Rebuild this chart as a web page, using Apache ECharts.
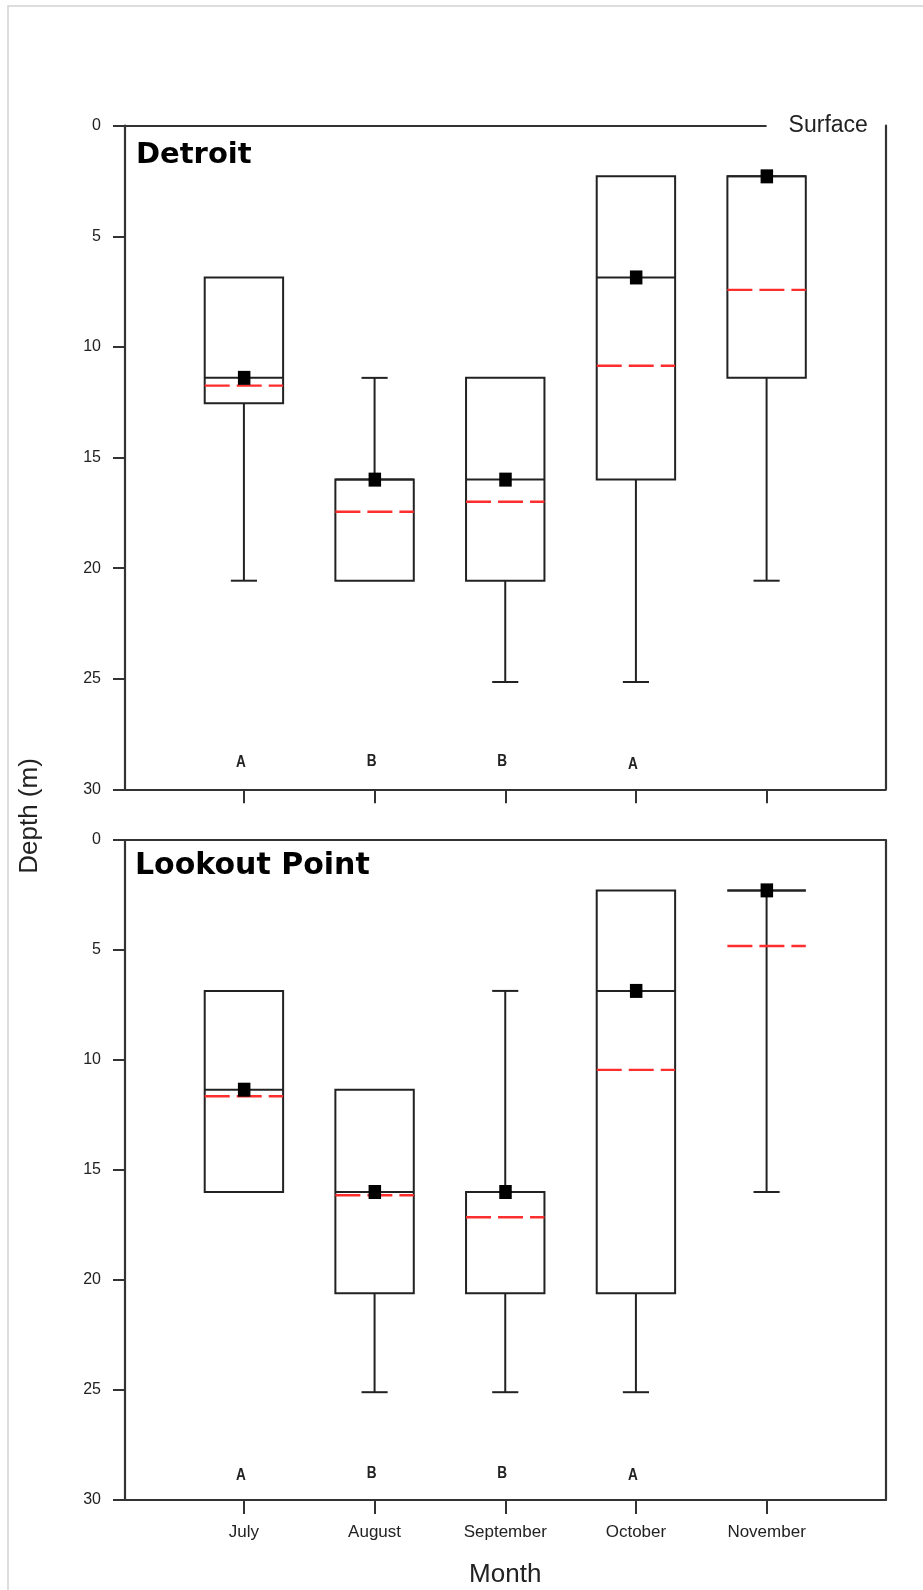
<!DOCTYPE html>
<html><head><meta charset="utf-8">
<script src="https://cdn.jsdelivr.net/npm/echarts@6/dist/echarts.min.js"></script>
<style>html,body{margin:0;padding:0;background:#fff}#c{width:923px;height:1590px}</style>
</head><body><div id="c"></div>
<script>
// ---- data (depth in metres) ----
const months = ['July', 'August', 'September', 'October', 'November'];
const monthPos = [1, 2, 3, 4, 5];
const depthTicks = [0, 5, 10, 15, 20, 25, 30];

// Detroit
const detShallow = [6.86, 11.4, 11.4, 2.29, 2.29];
const detQ1      = [6.86, 16.0, 11.4, 2.29, 2.29];
const detMedian  = [11.4, 16.0, 16.0, 6.86, 2.29];
const detQ3      = [12.55, 20.57, 20.57, 16.0, 11.4];
const detDeep    = [20.57, 20.57, 25.15, 25.15, 20.57];
const detMean    = [11.75, 17.45, 17.0, 10.85, 7.42];
const detLetters = ['A', 'B', 'B', 'A', ''];
const detLetterDepth = [28.8, 28.75, 28.75, 28.9, 28.8];

// Lookout Point
const lopShallow = [6.86, 11.35, 6.86, 2.29, 2.29];
const lopQ1      = [6.86, 11.35, 16.0, 2.29, 2.29];
const lopMedian  = [11.35, 16.0, 16.0, 6.86, 2.29];
const lopQ3      = [16.0, 20.6, 20.6, 20.6, 2.29];
const lopDeep    = [16.0, 25.1, 25.1, 25.1, 16.0];
const lopMean    = [11.65, 16.15, 17.15, 10.45, 4.82];
const lopLetters = ['A', 'B', 'B', 'A', ''];
const lopLetterDepth = [28.9, 28.8, 28.8, 28.9, 28.9];

// ---- chart ----
const chart = echarts.init(document.getElementById('c'), null, {renderer: 'canvas'});
const INK = '#222';
const AX = '#333';

function rows(sh, q1, med, q3, dp, mean, ld) {
  return monthPos.map((p, i) => [p, sh[i], q1[i], med[i], q3[i], dp[i], mean[i], ld[i]]);
}

function makeRender(letters) {
  return function (params, api) {
    const x = api.value(0);
    const sh = api.value(1), q1 = api.value(2), med = api.value(3), q3 = api.value(4),
          dp = api.value(5), mean = api.value(6), ld = api.value(7);
    const boxW = api.size([0.6, 0])[0];
    const capW = api.size([0.2, 0])[0];
    const P = v => api.coord([x, v]);
    const cx = P(q1)[0];
    const yQ1 = P(q1)[1], yQ3 = P(q3)[1], yMed = P(med)[1], ySh = P(sh)[1], yDp = P(dp)[1], yMean = P(mean)[1];
    const black = {stroke: INK, lineWidth: 2};
    const line = (x1, y1, x2, y2, style) => ({type: 'line', shape: {x1, y1, x2, y2}, style});
    const ch = [];
    if (sh < q1) {
      ch.push(line(cx, ySh, cx, yQ1, black));
      ch.push(line(cx - capW / 2, ySh, cx + capW / 2, ySh, black));
    }
    if (dp > q3) {
      ch.push(line(cx, yQ3, cx, yDp, black));
      ch.push(line(cx - capW / 2, yDp, cx + capW / 2, yDp, black));
    }
    if (q3 > q1) {
      ch.push({type: 'rect', shape: {x: cx - boxW / 2, y: yQ1, width: boxW, height: yQ3 - yQ1},
               style: {fill: 'none', stroke: INK, lineWidth: 2}});
    } else {
      ch.push(line(cx - boxW / 2, yQ1, cx + boxW / 2, yQ1, black));
    }
    ch.push(line(cx - boxW / 2, yMed, cx + boxW / 2, yMed, black));
    ch.push(line(cx - boxW / 2, yMean, cx + boxW / 2, yMean,
                 {stroke: '#ff2e2e', lineWidth: 2.4, lineDash: [25, 7]}));
    ch.push({type: 'rect', shape: {x: cx - 6, y: yMed - 7, width: 12.5, height: 14}, style: {fill: '#000'}});
    const t = letters[params.dataIndex];
    if (t) {
      ch.push({type: 'text', x: cx - 3, y: P(ld)[1], scaleX: 0.85,
               style: {text: t, textAlign: 'center', textVerticalAlign: 'middle',
                       font: 'bold 16px "Liberation Sans", Arial, sans-serif', fill: INK}});
    }
    return {type: 'group', children: ch};
  };
}

const tickLabel = {color: INK, fontSize: 16, fontFamily: '"Liberation Sans", Arial, sans-serif', margin: 24};

function xBottom(grid, showLabel) {
  return {
    type: 'value', gridIndex: grid, position: 'bottom', min: 0.09, max: 5.91,
    axisLine: {show: true, onZero: false, lineStyle: {color: AX, width: 2.2}},
    axisTick: {show: true, customValues: monthPos, length: 14, inside: false, lineStyle: {color: AX, width: 2}},
    axisLabel: {show: showLabel, customValues: monthPos, formatter: v => months[Math.round(v) - 1],
                color: INK, fontSize: 17, fontFamily: '"Liberation Sans", Arial, sans-serif', margin: 24},
    splitLine: {show: false},
    name: showLabel ? 'Month' : '', nameLocation: 'middle', nameGap: 62,
    nameTextStyle: {color: INK, fontSize: 26, fontFamily: '"Liberation Sans", Arial, sans-serif'}
  };
}
function xTop(grid) {
  return {
    type: 'value', gridIndex: grid, position: 'top', min: 0.09, max: 5.91,
    axisLine: {show: true, onZero: false, lineStyle: {color: AX, width: 2.2}},
    axisTick: {show: false}, axisLabel: {show: false}, splitLine: {show: false}
  };
}
function yLeft(grid) {
  return {
    type: 'value', gridIndex: grid, position: 'left', inverse: true, min: 0, max: 30, interval: 5,
    axisLine: {show: true, onZero: false, lineStyle: {color: AX, width: 2.2}},
    axisTick: {show: true, length: 12, inside: false, lineStyle: {color: AX, width: 2}},
    axisLabel: Object.assign({show: true, formatter: v => depthTicks.includes(v) ? String(v) : ''}, tickLabel),
    splitLine: {show: false}
  };
}
function yRight(grid) {
  return {
    type: 'value', gridIndex: grid, position: 'right', inverse: true, min: 0, max: 30,
    axisLine: {show: true, onZero: false, lineStyle: {color: AX, width: 2.2}},
    axisTick: {show: false}, axisLabel: {show: false}, splitLine: {show: false}
  };
}

const option = {
  backgroundColor: '#fff',
  animation: false,
  grid: [
    {left: 125, right: 37.5, top: 125.7, height: 663.6},
    {left: 125, right: 37.5, top: 840, height: 660}
  ],
  xAxis: [xBottom(0, false), xBottom(1, true), xTop(1)],
  yAxis: [yLeft(0), yLeft(1), yRight(0), yRight(1)],
  graphic: [
    {type: 'rect', shape: {x: 8, y: 6, width: 1200, height: 2000}, style: {fill: 'none', stroke: '#d2d2d2', lineWidth: 1.5}, silent: true},
    {type: 'text', x: 29.5, y: 816, rotation: Math.PI / 2,
     style: {text: 'Depth (m)', textAlign: 'center', textVerticalAlign: 'middle',
             font: '26px "Liberation Sans", Arial, sans-serif', fill: INK}},
    {type: 'text', x: 136, y: 155.5,
     style: {text: 'Detroit', textAlign: 'left', textVerticalAlign: 'middle',
             font: 'bold 29px "DejaVu Sans", sans-serif', fill: '#000'}},
    {type: 'text', x: 135, y: 866.5,
     style: {text: 'Lookout Point', textAlign: 'left', textVerticalAlign: 'middle',
             font: 'bold 30px "DejaVu Sans", sans-serif', fill: '#000'}}
  ],
  series: [
    {
      type: 'custom', name: 'Detroit', xAxisIndex: 0, yAxisIndex: 0,
      renderItem: makeRender(detLetters),
      encode: {x: 0, y: [1, 2, 3, 4, 5, 6]},
      data: rows(detShallow, detQ1, detMedian, detQ3, detDeep, detMean, detLetterDepth),
      markLine: {
        silent: true, symbol: 'none',
        lineStyle: {color: AX, width: 2.2, type: 'solid'},
        label: {show: true, position: 'end', formatter: 'Surface', distance: 22,
                color: INK, fontSize: 23, fontFamily: '"Liberation Sans", Arial, sans-serif'},
        data: [[{coord: [0.09, 0]}, {coord: [monthPos[4], 0]}]]
      }
    },
    {
      type: 'custom', name: 'Lookout Point', xAxisIndex: 1, yAxisIndex: 1,
      renderItem: makeRender(lopLetters),
      encode: {x: 0, y: [1, 2, 3, 4, 5, 6]},
      data: rows(lopShallow, lopQ1, lopMedian, lopQ3, lopDeep, lopMean, lopLetterDepth)
    }
  ]
};
chart.setOption(option);
</script>
</body></html>
